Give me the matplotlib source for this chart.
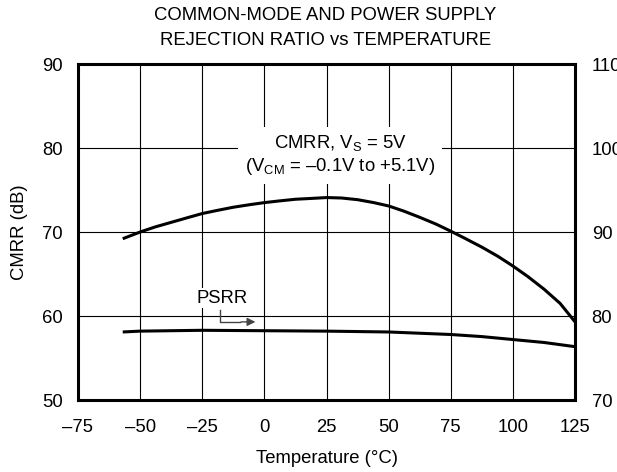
import matplotlib
matplotlib.use("Agg")
import matplotlib.pyplot as plt

plt.rcParams['font.family'] = ['Liberation Sans', 'DejaVu Sans']
plt.rcParams['mathtext.fontset'] = 'custom'
plt.rcParams['mathtext.rm'] = 'Liberation Sans'
plt.rcParams['mathtext.it'] = 'Liberation Sans'

# CMRR, left axis (dB)
cmrr_temp = [-57, -50, -44, -37.5, -31, -25, -18.5, -12.5, -6, 0, 6, 12.5, 19, 25, 31,
             37.5, 44, 50, 56, 62.5, 69, 75, 81, 87.5, 94, 100, 106, 112.5, 119, 125]
cmrr_db = [69.2, 70.0, 70.6, 71.15, 71.7, 72.2, 72.6, 72.95, 73.25, 73.5, 73.7, 73.9, 74.0, 74.1, 74.05,
           73.85, 73.5, 73.1, 72.5, 71.75, 70.95, 70.1, 69.2, 68.2, 67.1, 65.95, 64.7, 63.2, 61.5, 59.3]

# PSRR, right axis (dB)
psrr_temp = [-57, -50, -25, 0, 25, 50, 75, 87.5, 100, 112.5, 125]
psrr_db = [78.1, 78.2, 78.3, 78.25, 78.2, 78.1, 77.8, 77.55, 77.2, 76.85, 76.35]

x_ticks = [-75, -50, -25, 0, 25, 50, 75, 100, 125]
left_ticks = [50, 60, 70, 80, 90]
right_ticks = [70, 80, 90, 100, 110]

fs = 13.3

fig = plt.figure(figsize=(6.17, 4.72), dpi=100)
ax = fig.add_axes([0.1264, 0.1525, 0.8056, 0.7119])

ax.set_xlim(-75, 125)
ax.set_ylim(50, 90)
ax.set_xticks(x_ticks)
ax.set_xticklabels([str(t).replace('-', '\u2013') for t in x_ticks])
ax.set_yticks(left_ticks)
ax.grid(True, color='black', linewidth=0.8)
ax.tick_params(length=0, labelsize=fs, pad=11)
ax.tick_params(axis='x', pad=14)
for s in ax.spines.values():
    s.set_linewidth(2.2)

ax.plot(cmrr_temp, cmrr_db, color='black', linewidth=2.2, solid_capstyle='butt')

ax2 = ax.twinx()
ax2.set_ylim(70, 110)
ax2.set_yticks(right_ticks)
ax2.tick_params(length=0, labelsize=fs, pad=12)
for s in ax2.spines.values():
    s.set_visible(False)
ax2.plot(psrr_temp, psrr_db, color='black', linewidth=2.2, solid_capstyle='butt')

ax.set_xlabel('Temperature (\u00b0C)', fontsize=fs, labelpad=10)
ax.set_ylabel('CMRR (dB)', fontsize=fs, labelpad=10)

fig.text(0.527, 0.985, 'COMMON-MODE AND POWER SUPPLY\nREJECTION RATIO vs TEMPERATURE',
         ha='center', va='top', fontsize=fs, linespacing=1.6)

ax.text(30.5, 79.2, 'CMRR, $\\mathregular{V_S}$ = 5V\n($\\mathregular{V_{CM}}$ = \u20130.1V to +5.1V)',
        ha='center', va='center', fontsize=fs, linespacing=1.2,
        bbox=dict(facecolor='white', edgecolor='none', pad=5), zorder=5)

ax.text(-17, 62.1, 'PSRR', ha='center', va='center', fontsize=fs,
        bbox=dict(facecolor='white', edgecolor='none', pad=1), zorder=5)
ax.plot([-18, -18, -10], [60.7, 59.3, 59.3], color='#444444', linewidth=1.0, zorder=6)
ax.annotate('', xy=(-2.5, 59.3), xytext=(-10.5, 59.3),
            arrowprops=dict(arrowstyle='-|>', color='#444444', lw=1.0, mutation_scale=12),
            zorder=6)

fig.savefig('out.png', dpi=100)
